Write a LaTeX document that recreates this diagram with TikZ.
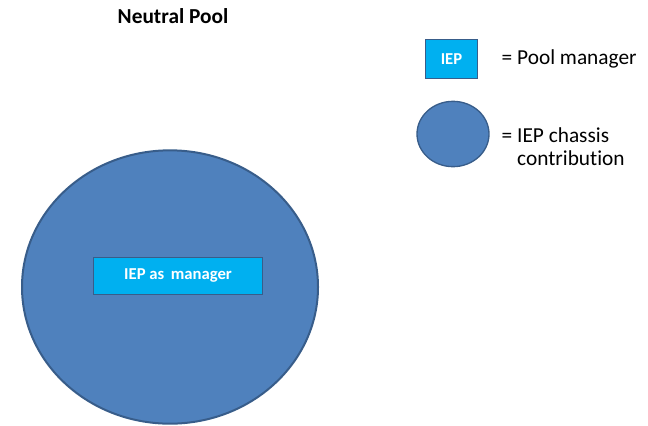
\documentclass[tikz,border=0pt]{standalone}
\usepackage{fontspec}
\setmainfont{Carlito}[Ligatures={NoCommon}]
\usetikzlibrary{shapes.geometric,positioning}
\definecolor{poolblue}{HTML}{4F81BD}
\definecolor{poolrim}{HTML}{385D8A}
\definecolor{mgrcyan}{HTML}{00B0F0}
\tikzset{
	pool/.style={ellipse, draw=poolrim, line width=1.5pt, fill=poolblue, inner sep=0pt},
	mgrbox/.style={rectangle, draw=poolrim, line width=1pt, fill=mgrcyan, text=white, font=\bfseries\fontsize{12.5}{14}\selectfont, inner sep=0pt},
	legtext/.style={anchor=west, align=left, font=\fontsize{16}{17.5}\selectfont}
}
\begin{document}
\begin{tikzpicture}[x=0.75pt, y=-0.75pt]
			\useasboundingbox (0,0) rectangle (648,425);
			\node[font=\bfseries\fontsize{16}{18}\selectfont] (title) at (173,16) {Neutral Pool};
			\node[pool, minimum width=222pt, minimum height=205pt] (neutral) at (170,287) {};
			\node[mgrbox, minimum width=127pt, minimum height=28pt] (manager) at (178,276) {IEP as\, manager};
			\node[mgrbox, minimum width=39pt, minimum height=29pt] (legbox) at (451.5,59) {IEP};
			\node[legtext] (legboxtext) at (497,59) {= Pool manager};
			\node[pool, line width=1pt, minimum width=54pt, minimum height=49pt] (legpool) at (453,134) {};
			\node[legtext] (legpooltext) at (497,146.5) {= IEP chassis\\\phantom{= }contribution};
			\end{tikzpicture}
\end{document}
